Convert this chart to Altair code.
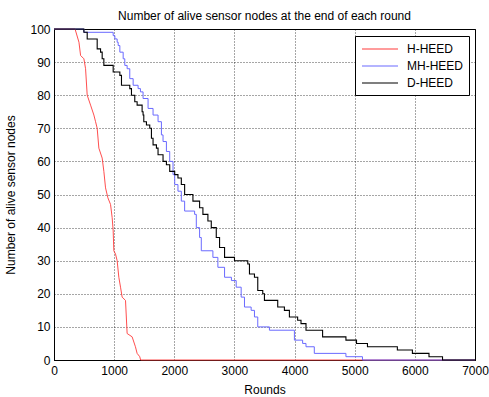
import altair as alt
import pandas as pd

# H-HEED (red)
h_rounds = [0, 350, 415, 442, 497, 525, 552, 608, 663, 691, 718, 746, 801, 829, 857, 896, 940, 967,
            984, 995, 1023, 1050, 1078, 1106, 1133, 1189, 1216, 1299, 1354, 1382, 1426, 1440, 7000]
h_alive = [100, 100, 96, 92, 91, 88, 80, 77, 74, 72, 70, 64, 61, 57, 52, 49, 47, 43,
           39, 33, 32, 30, 25, 22, 19, 18, 8, 7, 4, 2, 1, 0, 0]

# MH-HEED (blue)
mh_rounds = [0, 497, 984, 1012, 1050, 1067, 1095, 1150, 1177, 1216, 1260, 1316, 1398, 1437, 1481,
             1564, 1647, 1730, 1786, 1813, 1869, 1924, 1979, 2007, 2061, 2117, 2172, 2338, 2366,
             2421, 2449, 2642, 2725, 2836, 2950, 3029, 3112, 3167, 3278, 3333, 3388, 3582, 3997,
             4134, 4190, 4328, 4854, 5129, 7000]
mh_alive = [100, 99, 98, 97, 96, 95, 93, 91, 89, 88, 85, 83, 82, 81, 79,
            76, 74, 72, 68, 66, 63, 60, 56, 53, 51, 48, 45, 44, 40,
            37, 33, 31, 28, 25, 24, 22, 19, 16, 15, 13, 10, 9, 6,
            5, 4, 2, 1, 0, 0]

# D-HEED (black)
d_rounds = [0, 497, 552, 718, 774, 801, 829, 984, 1095, 1122, 1260, 1288, 1343, 1382, 1465, 1481,
            1493, 1537, 1592, 1620, 1647, 1703, 1730, 1813, 1869, 1924, 2007, 2061, 2117, 2172,
            2310, 2421, 2476, 2559, 2615, 2698, 2753, 2836, 3001, 3222, 3250, 3333, 3388, 3471,
            3499, 3720, 3831, 3914, 4051, 4107, 4190, 4466, 4854, 5030, 5212, 5709, 5959, 6235,
            6460, 7000]
d_alive = [100, 99, 97, 94, 93, 91, 89, 87, 86, 83, 82, 80, 78, 77, 75, 74,
           72, 71, 70, 67, 65, 64, 62, 60, 59, 57, 56, 55, 53, 50,
           48, 46, 44, 42, 40, 37, 34, 31, 30, 29, 26, 25, 21, 20,
           18, 16, 15, 13, 12, 11, 9, 7, 6, 5, 4, 3, 2, 1,
           0, 0]

names = ["H-HEED", "MH-HEED", "D-HEED"]
colors = ["#ff3a3a", "#6a6aff", "#000000"]

df_h = pd.DataFrame({"Rounds": h_rounds, "Alive": h_alive, "Protocol": names[0]})
df_mh = pd.DataFrame({"Rounds": mh_rounds, "Alive": mh_alive, "Protocol": names[1]})
df_d = pd.DataFrame({"Rounds": d_rounds, "Alive": d_alive, "Protocol": names[2]})

FONT = "Liberation Sans"

x_enc = alt.X("Rounds:Q",
              scale=alt.Scale(domain=[0, 7000], nice=False),
              axis=alt.Axis(values=list(range(0, 7001, 1000)), title="Rounds",
                            format="d", labelPadding=5, titlePadding=8))
y_enc = alt.Y("Alive:Q",
              scale=alt.Scale(domain=[0, 100], nice=False),
              axis=alt.Axis(values=list(range(0, 101, 10)), title="Number of alive sensor nodes",
                            labelPadding=4, titlePadding=12))
color_enc = alt.Color("Protocol:N",
                      scale=alt.Scale(domain=names, range=colors),
                      legend=alt.Legend(title=None, orient="none", legendX=301, legendY=7,
                                        symbolType="M-1,0H5", symbolSize=144,
                                        symbolStrokeWidth=1.1, labelOffset=32,
                                        labelFont=FONT, labelFontSize=12, labelColor="#000",
                                        strokeColor="#000", fillColor="#fff", padding=6,
                                        rowPadding=4))

base = alt.Chart().encode(x=x_enc, y=y_enc, color=color_enc)

red = base.mark_line(interpolate="linear", strokeWidth=0.9).properties(data=df_h)
blue = base.mark_line(interpolate="step-after", strokeWidth=1).properties(data=df_mh)
black = base.mark_line(interpolate="step-after", strokeWidth=1.1).properties(data=df_d)

chart = alt.layer(red, blue, black).properties(
    width=421, height=331,
    autosize=alt.AutoSizeParams(type="none"),
    padding={"left": 54, "top": 29, "right": 14, "bottom": 37},
    title=alt.TitleParams("Number of alive sensor nodes at the end of each round",
                          font=FONT, fontSize=12, fontWeight="normal", color="#000",
                          offset=0, anchor="middle"),
    background="white",
).configure_view(
    stroke="#000", strokeWidth=1
).configure_axis(
    grid=True, gridColor="#000", gridDash=[1, 2], gridOpacity=0.7, gridWidth=1,
    domainColor="#000", domainWidth=1, ticks=False, labelFlush=False,
    labelFont=FONT, labelFontSize=12, labelColor="#000",
    titleFont=FONT, titleFontSize=12, titleFontWeight="normal", titleColor="#000",
)

chart.save("out.html", embed_options={"renderer": "svg", "actions": False})
